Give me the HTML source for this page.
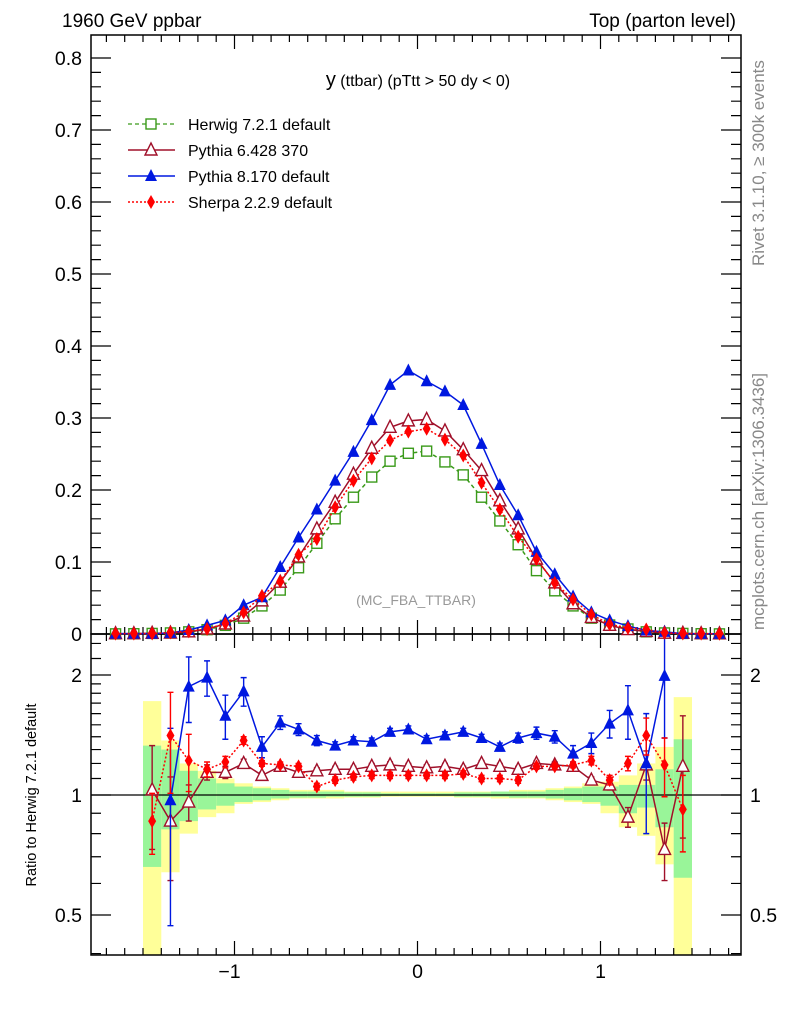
<!DOCTYPE html>
<html><head><meta charset="utf-8"><style>
html,body{margin:0;padding:0;background:#fff;width:786px;height:1024px;overflow:hidden}
svg{display:block;font-family:"Liberation Sans",sans-serif}
</style></head><body>
<svg id="c" width="786" height="1024" viewBox="0 0 786 1024" xmlns="http://www.w3.org/2000/svg">
<text x="62" y="27" font-size="19">1960 GeV ppbar</text>
<text x="736" y="27" font-size="19" text-anchor="end">Top (parton level)</text>
<text x="418" y="86" font-size="16" text-anchor="middle"><tspan font-size="20">y</tspan> (ttbar) (pTtt &gt; 50 dy &lt; 0)</text>
<text x="416" y="605" font-size="14" fill="#999" text-anchor="middle">(MC_FBA_TTBAR)</text>
<text transform="translate(764,266) rotate(-90)" font-size="17" fill="#888">Rivet 3.1.10, ≥ 300k events</text>
<text transform="translate(764,630) rotate(-90)" font-size="17" fill="#888">mcplots.cern.ch [arXiv:1306.3436]</text>
<text transform="translate(36,795) rotate(-90)" font-size="14.5" text-anchor="middle">Ratio to Herwig 7.2.1 default</text>
<g id="bands"></g><g id="axes"></g><g id="series"></g>
<g>
<g><line x1="128" y1="124" x2="175" y2="124" stroke="#3a9a1a" stroke-dasharray="4,3" stroke-width="1.3"/><rect x="146" y="119" width="10" height="10" fill="#fff" stroke="#3a9a1a" stroke-width="1.4"/><text x="188" y="130" font-size="16">Herwig 7.2.1 default</text></g>
<g><line x1="128" y1="150" x2="175" y2="150" stroke="#a0102a" stroke-width="1.5"/><path d="M151,143 L157,155 L145,155 Z" fill="#fff" stroke="#a0102a" stroke-width="1.4"/><text x="188" y="156" font-size="16">Pythia 6.428 370</text></g>
<g><line x1="128" y1="176" x2="175" y2="176" stroke="#0018e0" stroke-width="1.5"/><path d="M151,169 L157,181 L145,181 Z" fill="#0018e0"/><text x="188" y="182" font-size="16">Pythia 8.170 default</text></g>
<g><line x1="128" y1="202" x2="175" y2="202" stroke="#f00" stroke-dasharray="2,2" stroke-width="1.5"/><path d="M151,195 L155,202 L151,209 L147,202 Z" fill="#f00"/><text x="188" y="208" font-size="16">Sherpa 2.2.9 default</text></g>
</g>
</svg>
<script>
// ---- data ----
const mainX = [-1.65,-1.55,-1.45,-1.35,-1.25,-1.15,-1.05,-0.95,-0.85,-0.75,-0.65,-0.55,-0.45,-0.35,-0.25,-0.15,-0.05,0.05,0.15,0.25,0.35,0.45,0.55,0.65,0.75,0.85,0.95,1.05,1.15,1.25,1.35,1.45,1.55,1.65];
const herwigMain = [0.0002,0.0004,0.0008,0.0015,0.003,0.006,0.012,0.022,0.039,0.061,0.092,0.126,0.160,0.190,0.218,0.240,0.251,0.254,0.239,0.221,0.190,0.157,0.124,0.088,0.060,0.039,0.022,0.0125,0.007,0.003,0.0015,0.0008,0.0004,0.0002];
const pythia6Main = [0.0004,0.0005,0.0009,0.0013,0.003,0.007,0.014,0.025,0.046,0.072,0.107,0.146,0.183,0.222,0.258,0.287,0.296,0.298,0.282,0.256,0.227,0.185,0.146,0.104,0.071,0.042,0.023,0.012,0.0062,0.0036,0.0011,0.0009,0.0004,0.0003];
const pythia8Main = [0.0005,0.0005,0.0006,0.0015,0.0056,0.012,0.019,0.040,0.051,0.093,0.134,0.173,0.213,0.253,0.297,0.346,0.366,0.351,0.337,0.318,0.264,0.207,0.165,0.114,0.083,0.052,0.030,0.019,0.011,0.005,0.003,0.0006,0.0004,0.0003];
const sherpaMain = [0.0005,0.0005,0.0007,0.0021,0.0037,0.007,0.0145,0.030,0.053,0.073,0.110,0.132,0.176,0.213,0.244,0.269,0.281,0.285,0.270,0.248,0.210,0.173,0.135,0.104,0.071,0.048,0.027,0.0136,0.0084,0.0063,0.0018,0.0007,0.0005,0.0004];
const ratioX = [-1.45,-1.35,-1.25,-1.15,-1.05,-0.95,-0.85,-0.75,-0.65,-0.55,-0.45,-0.35,-0.25,-0.15,-0.05,0.05,0.15,0.25,0.35,0.45,0.55,0.65,0.75,0.85,0.95,1.05,1.15,1.25,1.35,1.45];
const pythia8Ratio = [null,0.97,1.87,1.97,1.58,1.82,1.32,1.52,1.46,1.37,1.33,1.37,1.36,1.44,1.46,1.38,1.41,1.44,1.39,1.32,1.39,1.43,1.40,1.27,1.35,1.51,1.63,1.20,1.99,null];
const pythia8RatioErr = [0,0.5,0.35,0.2,0.2,0.15,0.08,0.06,0.05,0.04,0.03,0.03,0.03,0.03,0.03,0.03,0.03,0.03,0.03,0.03,0.04,0.05,0.05,0.06,0.08,0.12,0.25,0.4,0.6,0];
const pythia6Ratio = [1.03,0.86,0.96,1.14,1.14,1.20,1.12,1.18,1.14,1.15,1.16,1.16,1.18,1.19,1.18,1.17,1.18,1.16,1.20,1.18,1.16,1.20,1.19,1.18,1.09,1.06,0.88,1.19,0.73,1.18];
const pythia6RatioErr = [0.3,0.25,0.1,0.05,0.04,0.03,0.02,0.02,0.02,0.02,0.02,0.02,0.02,0.02,0.02,0.02,0.02,0.02,0.02,0.02,0.02,0.02,0.02,0.02,0.02,0.03,0.05,0.1,0.12,0.4];
const sherpaRatio = [0.86,1.41,1.22,1.16,1.21,1.37,1.20,1.19,1.18,1.05,1.09,1.11,1.12,1.12,1.12,1.12,1.12,1.13,1.10,1.10,1.09,1.18,1.18,1.19,1.22,1.09,1.20,1.41,1.19,0.92];
const sherpaRatioErr = [0.15,0.4,0.2,0.05,0.04,0.03,0.02,0.02,0.02,0.02,0.02,0.02,0.02,0.02,0.02,0.02,0.02,0.02,0.02,0.02,0.02,0.02,0.02,0.02,0.03,0.03,0.05,0.15,0.2,0.2];
const yellowUp = [1.72,1.37,1.2,1.15,1.1,1.07,1.05,1.04,1.03,1.03,1.03,1.02,1.02,1.02,1.02,1.02,1.02,1.02,1.02,1.02,1.03,1.03,1.04,1.05,1.07,1.08,1.12,1.2,1.32,1.76];
const yellowLo = [0.3,0.64,0.8,0.88,0.9,0.95,0.96,0.97,0.98,0.98,0.98,0.985,0.985,0.99,0.99,0.99,0.99,0.985,0.985,0.98,0.98,0.98,0.97,0.96,0.95,0.9,0.83,0.79,0.67,0.3];
const greenUp = [1.33,1.3,1.15,1.1,1.07,1.05,1.04,1.03,1.02,1.02,1.02,1.015,1.015,1.01,1.01,1.01,1.01,1.015,1.015,1.02,1.02,1.02,1.03,1.04,1.05,1.05,1.06,1.06,1.16,1.38];
const greenLo = [0.66,0.82,0.86,0.92,0.94,0.96,0.97,0.98,0.985,0.985,0.99,0.99,0.99,0.995,0.995,0.995,0.995,0.99,0.99,0.99,0.985,0.985,0.98,0.97,0.96,0.94,0.9,0.93,0.83,0.62];
const mainYTicks = [0,0.1,0.2,0.3,0.4,0.5,0.6,0.7,0.8];
const ratioTicks = [0.5,1,2];
const xTicks = [-1,0,1];
// ---- scales ----
const X0=91,X1=741,MT=35,MB=634,RT=634,RB=955;
const sx=v=>417.5+v*183;
const sy=v=>634-v*720;
const sr=v=>795-120*Math.log2(v);
const NS="http://www.w3.org/2000/svg";
function mk(tag,attrs,parent){const e=document.createElementNS(NS,tag);for(const k in attrs)e.setAttribute(k,attrs[k]);parent.appendChild(e);return e;}
const bandsG=document.getElementById('bands'),axesG=document.getElementById('axes'),serG=document.getElementById('series');
const clampR=v=>Math.max(RT,Math.min(RB,v));
ratioX.forEach((x,i)=>{
  const xa=sx(x-0.05),xb=sx(x+0.05);
  const y=mk('rect',{x:xa,y:clampR(sr(yellowUp[i])),width:xb-xa,height:clampR(sr(yellowLo[i]))-clampR(sr(yellowUp[i])),fill:'#ffff99'},bandsG);
  
  
  const g=mk('rect',{x:xa,y:clampR(sr(greenUp[i])),width:xb-xa,height:clampR(sr(greenLo[i]))-clampR(sr(greenUp[i])),fill:'#99f599'},bandsG);
  
  
});
[[MT,MB],[RT,RB]].forEach(([t,b])=>{const r=mk('rect',{x:X0,y:t,width:X1-X0,height:b-t,fill:'none',stroke:'#000','stroke-width':1.5},axesG);});
const one=mk('line',{x1:X0,x2:X1,y1:sr(1),y2:sr(1),stroke:'#000','stroke-width':1.2},axesG);


let tp='';
for(let k=-17;k<=17;k++){const v=k/10,x=sx(v);if(x<X0||x>X1)continue;const L=(k%10===0)?14:7;
  tp+=`M${x},${MB}v${-L}M${x},${MT}v${L}M${x},${RB}v${-L}M${x},${RT}v${L}`;}
for(let k=0;k<=40;k++){const v=k*0.02,y=sy(v);if(y<MT)continue;const L=(k%5===0)?20:10;tp+=`M${X0},${y}h${L}M${X1},${y}h${-L}`;}
[0.4,0.5,0.6,0.7,0.8,0.9,1,1.1,1.2,1.3,1.4,1.5,1.6,1.7,1.8,1.9,2,2.2,2.4].forEach(v=>{const y=sr(v);if(y<RT||y>RB)return;const L=(v===0.5||v===1||v===2)?20:10;tp+=`M${X0},${y}h${L}M${X1},${y}h${-L}`;});
const tk=mk('path',{d:tp,stroke:'#000','stroke-width':1.2,fill:'none'},axesG);


mainYTicks.forEach(v=>{const t=mk('text',{x:82,y:sy(v)+7,'font-size':19.5,'text-anchor':'end'},axesG);t.textContent=v===0?'0':v.toFixed(1);
  
  });
ratioTicks.forEach(v=>{[[82,'end'],[750,'start']].forEach(([x,a])=>{const t=mk('text',{x:x,y:sr(v)+7,'font-size':19.5,'text-anchor':a},axesG);t.textContent=String(v);
  
  });});
xTicks.forEach(v=>{const t=mk('text',{x:sx(v)-(v<0?5:0),y:978,'font-size':19.5,'text-anchor':'middle'},axesG);t.textContent=v<0?'\u2212'+Math.abs(v):String(v);
  
  });
function marker(kind,x,y,col,g){
  if(kind==='sq')return mk('rect',{x:x-5,y:y-5,width:10,height:10,fill:'#fff',stroke:col,'stroke-width':1.4},g);
  if(kind==='tri')return mk('path',{d:`M${x},${y-7}L${x+6},${y+5}L${x-6},${y+5}Z`,fill:'#fff',stroke:col,'stroke-width':1.4},g);
  if(kind==='ftri')return mk('path',{d:`M${x},${y-7}L${x+6},${y+5}L${x-6},${y+5}Z`,fill:col},g);
  return mk('path',{d:`M${x},${y-7}L${x+4},${y}L${x},${y+7}L${x-4},${y}Z`,fill:col},g);
}
const series=[
 {name:'herwig',main:herwigMain,ratio:null,err:null,col:'#3a9a1a',dash:'4,3',kind:'sq'},
 {name:'pythia6',main:pythia6Main,ratio:pythia6Ratio,err:pythia6RatioErr,col:'#a0102a',dash:'',kind:'tri'},
 {name:'pythia8',main:pythia8Main,ratio:pythia8Ratio,err:pythia8RatioErr,col:'#0018e0',dash:'',kind:'ftri'},
 {name:'sherpa',main:sherpaMain,ratio:sherpaRatio,err:sherpaRatioErr,col:'#f00',dash:'2,2',kind:'dia'}];
series.forEach(s=>{
  const g=mk('g',{},serG);
  
  
  const pts=mainX.map((x,i)=>[sx(x),sy(s.main[i])]);
  const pl=mk('polyline',{points:pts.map(p=>p.join(',')).join(' '),fill:'none',stroke:s.col,'stroke-width':1.5,'stroke-dasharray':s.dash},g);
  
  
  pts.forEach(p=>{const m=marker(s.kind,p[0],p[1],s.col,g);
    
    });
  if(s.ratio){
    const rp=[];ratioX.forEach((x,i)=>{if(s.ratio[i]!=null)rp.push([sx(x),sr(s.ratio[i]),i]);});
    const rl=mk('polyline',{points:rp.map(p=>p[0]+','+p[1]).join(' '),fill:'none',stroke:s.col,'stroke-width':1.5,'stroke-dasharray':s.dash},g);
    
    
    rp.forEach(p=>{const i=p[2],v=s.ratio[i],e=s.err[i];
      const ya=clampR(sr(v+e)),yb=clampR(sr(Math.max(0.01,v-e)));
      const eb=mk('path',{d:`M${p[0]},${ya}V${yb}M${p[0]-3},${ya}h6M${p[0]-3},${yb}h6`,stroke:s.col,'stroke-width':1.4,fill:'none'},g);
      
      
      const m=marker(s.kind,p[0],p[1],s.col,g);
      
      });
  }
});
</script>
</body></html>
